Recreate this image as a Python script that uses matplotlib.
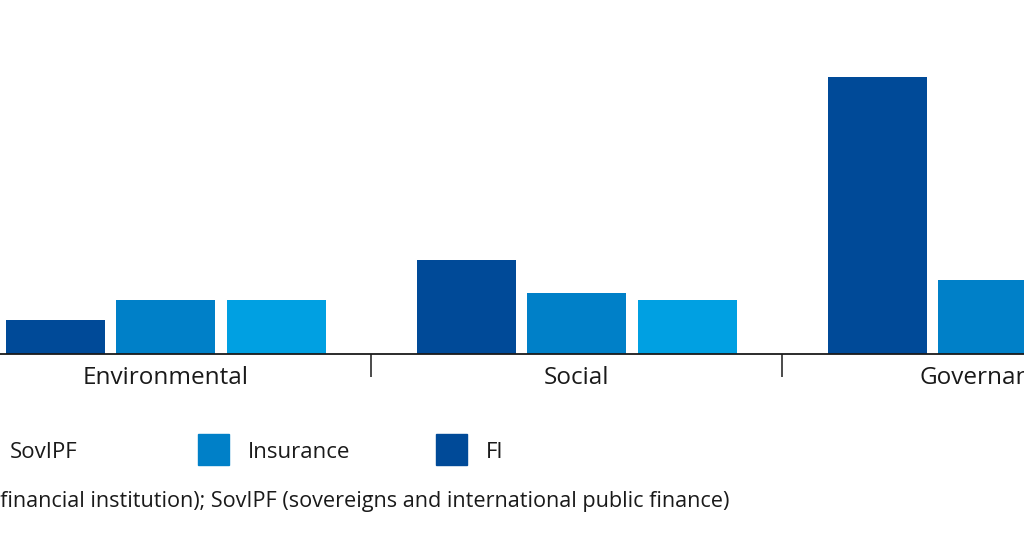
import matplotlib.pyplot as plt
from matplotlib.patches import Rectangle
from matplotlib.transforms import blended_transform_factory

plt.rcParams['font.family'] = ['Open Sans', 'DejaVu Sans']

categories = ['Environmental', 'Social', 'Governance']
series = ['FI', 'Insurance', 'SovIPF']
fi_values = [5, 14, 41]
insurance_values = [8, 9, 11]
sovipf_values = [8, 8, 9]
colors = {'FI': '#004a98', 'Insurance': '#0080c8', 'SovIPF': '#00a0e2'}
legend_order = ['SovIPF', 'Insurance', 'FI']
note = 'Note: FI (financial institution); SovIPF (sovereigns and international public finance)'

W, H = 1024, 536
fig = plt.figure(figsize=(W / 100, H / 100), dpi=100)

# axes runs past the figure edges (reference is a crop of a wider chart)
left_px, right_px = -40.0, 1193.0
base_px = 354.0
unit_px = 6.75
ymax = 45
ax = fig.add_axes([left_px / W, (H - base_px) / H,
                   (right_px - left_px) / W, ymax * unit_px / H])

values = [fi_values, insurance_values, sovipf_values]
bw = 99 / 411
step = 110.5 / 411
for i, (name, vals) in enumerate(zip(series, values)):
    xs = [g + (i - 1) * step for g in range(len(categories))]
    ax.bar(xs, vals, width=bw, color=colors[name], label=name)

ax.set_xlim(-0.5, 2.5)
ax.set_ylim(0, ymax)
for s in ['top', 'right', 'left']:
    ax.spines[s].set_visible(False)
ax.spines['bottom'].set_color('#1a1a1a')
ax.spines['bottom'].set_linewidth(1.3)
ax.set_yticks([])
ax.set_xticks([0.5, 1.5])
ax.set_xticklabels([])
ax.tick_params(axis='x', length=16.5, width=1.1, color='#1a1a1a', direction='out')

trans = blended_transform_factory(ax.transData, fig.transFigure)
for g, cat in enumerate(categories):
    ax.text(g, 1 - 378 / H, cat, transform=trans, ha='center', va='center',
            fontsize=17.5, color='#1a1a1a')

# legend row
for i, name in enumerate(legend_order):
    x0 = -40 + 238 * i
    fig.patches.append(Rectangle((x0 / W, 1 - 465 / H), 31 / W, 31 / H,
                                 transform=fig.transFigure, color=colors[name]))
    fig.text((x0 + 50) / W, 1 - 453 / H, name, ha='left', va='center',
             fontsize=16, color='#1a1a1a')

fig.text(729 / W, 1 - 502 / H, note, ha='right', va='center',
         fontsize=15.6, color='#1a1a1a')

fig.savefig('out.png', dpi=100)
